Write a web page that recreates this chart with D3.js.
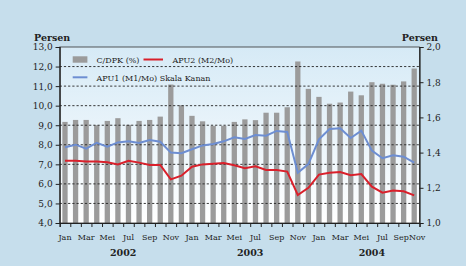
<!DOCTYPE html>
<html>
<head>
<meta charset="utf-8">
<script src="https://cdn.jsdelivr.net/npm/d3@7"></script>
<style>
  body { margin: 0; background: #c6deec; }
  svg { display: block; }
  text { font-family: "DejaVu Serif", serif; fill: #222; }
</style>
</head>
<body>
<svg id="chart" width="466" height="266"></svg>
<script>
// month names used on the x axis
var monthNames = ["Jan","Feb","Mar","Apr","Mei","Jun","Jul","Agu","Sep","Okt","Nov","Des"];
var years = ["2002", "2003", "2004"];
var yearMonths = [12, 12, 11];   // months labelled under each year

// C/DPK (%) - left scale, Jan 2002 .. Oct 2004
var cdpk = [9.17, 9.27, 9.27, 9.00, 9.22, 9.36, 9.02, 9.22, 9.27, 9.44, 11.08, 10.02,
            9.48, 9.20, 8.97, 8.97, 9.17, 9.30, 9.26, 9.64, 9.64, 9.92, 12.26, 10.86,
            10.45, 10.10, 10.16, 10.72, 10.53, 11.20, 11.12, 11.07, 11.24, 11.90];

// APU1 (M1/Mo) - right scale
var apu1 = [1.430, 1.445, 1.422, 1.456, 1.434, 1.458, 1.464, 1.455, 1.472, 1.462, 1.400, 1.396,
            1.419, 1.441, 1.449, 1.464, 1.487, 1.477, 1.500, 1.496, 1.523, 1.517, 1.286, 1.335,
            1.475, 1.534, 1.538, 1.483, 1.525, 1.411, 1.368, 1.385, 1.377, 1.343];

// APU2 (M2/Mo) - right scale
var apu2 = [1.354, 1.354, 1.350, 1.350, 1.345, 1.333, 1.354, 1.343, 1.330, 1.330, 1.248, 1.269,
            1.320, 1.333, 1.337, 1.341, 1.328, 1.311, 1.322, 1.301, 1.301, 1.292, 1.159, 1.200,
            1.275, 1.286, 1.290, 1.271, 1.278, 1.206, 1.172, 1.184, 1.180, 1.157];

var leftTicks = [4, 5, 6, 7, 8, 9, 10, 11, 12, 13];
var rightTicks = [1.0, 1.2, 1.4, 1.6, 1.8, 2.0];

var svg = d3.select("#chart");
var plotL = 59.7, plotR = 419.5, plotT = 47, plotB = 223;

var idx = d3.range(cdpk.length);

var x = d3.scaleBand()
	.domain(idx)
	.range([plotL, plotR])
	.paddingInner(0.5)
	.paddingOuter(0.25);

var xi = d3.scaleLinear()
	.domain([0, cdpk.length])
	.range([plotL, plotR]);

var y = d3.scaleLinear().domain([4, 13]).range([plotB, plotT]);
var yR = d3.scaleLinear().domain([1, 2]).range([plotB, plotT]);

var comma = function(d){ return d3.format(".1f")(d).replace(".", ","); };

// plot background gradient
var grad = svg.append("defs").append("linearGradient")
	.attr("id", "bg").attr("x1", 0).attr("y1", 0).attr("x2", 0).attr("y2", 1);
grad.append("stop").attr("offset", "0%").attr("stop-color", "#d6eaf6");
grad.append("stop").attr("offset", "100%").attr("stop-color", "#ffffff");

svg.append("rect")
	.attr("x", plotL).attr("y", plotT)
	.attr("width", plotR - plotL).attr("height", plotB - plotT)
	.style("fill", "url(#bg)");

// bars
svg.selectAll("rect.bar")
	.data(cdpk)
	.enter().append("rect")
	.attr("class", "bar")
	.attr("x", function(d, i){ return x(i); })
	.attr("width", x.bandwidth())
	.attr("y", function(d){ return y(d); })
	.attr("height", function(d){ return y(4) - y(d); })
	.style("fill", "#9b9b9b");

// dashed grid
svg.selectAll("line.grid")
	.data(leftTicks.filter(function(d){ return d > 4 && d < 13; }))
	.enter().append("line")
	.attr("x1", plotL).attr("x2", plotR)
	.attr("y1", function(d){ return y(d); })
	.attr("y2", function(d){ return y(d); })
	.style("stroke", "#222")
	.style("stroke-width", 0.9)
	.style("stroke-dasharray", "2.2,2");

// lines
var line1 = d3.line()
	.x(function(d, i){ return x(i) + x.bandwidth() / 2; })
	.y(function(d){ return yR(d); });

svg.append("path").datum(apu1)
	.attr("d", line1)
	.style("fill", "none")
	.style("stroke", "#6d8ed2")
	.style("stroke-width", 2);

svg.append("path").datum(apu2)
	.attr("d", line1)
	.style("fill", "none")
	.style("stroke", "#d9202b")
	.style("stroke-width", 2);

// frame
svg.append("rect")
	.attr("x", plotL).attr("y", plotT)
	.attr("width", plotR - plotL).attr("height", plotB - plotT)
	.style("fill", "none")
	.style("stroke", "#333")
	.style("stroke-width", 0.8);

// axes
var axL = svg.append("g")
	.attr("transform", "translate(" + plotL + ",0)")
	.call(d3.axisLeft(y).tickValues(leftTicks).tickFormat(comma).tickSize(4).tickPadding(3));

var axR = svg.append("g")
	.attr("transform", "translate(" + plotR + ",0)")
	.call(d3.axisRight(yR).tickValues(rightTicks).tickFormat(comma).tickSize(4).tickPadding(3));

var axB = svg.append("g")
	.attr("transform", "translate(0," + plotB + ")")
	.call(d3.axisBottom(xi).tickValues(d3.range(cdpk.length + 1)).tickFormat("").tickSize(4));

[axL, axR, axB].forEach(function(ax){
	ax.select(".domain").style("stroke", "#222").style("stroke-width", 1.2);
	ax.selectAll(".tick line").style("stroke", "#222");
	ax.selectAll("text").style("font-family", "DejaVu Serif").style("font-size", "9px").style("fill", "#222");
});

// month labels every second month
var labelIdx = d3.range(0, cdpk.length + 1, 2);
svg.selectAll("text.month")
	.data(labelIdx)
	.enter().append("text")
	.attr("class", "month")
	.attr("x", function(d){
		if(d == cdpk.length){ return xi(d - 1); }
		if(d == cdpk.length - 2){ return xi(d + 1); }
		return xi(d + 0.5);
	})
	.attr("y", 240)
	.attr("text-anchor", function(d){
		if(d == cdpk.length){ return "start"; }
		if(d == cdpk.length - 2){ return "end"; }
		return "middle";
	})
	.style("font-size", "8px")
	.text(function(d){ return monthNames[d % 12]; });

// years
var start = 0;
years.forEach(function(yr, k){
	var end = start + yearMonths[k];
	svg.append("text")
		.attr("x", (xi(start) + xi(end)) / 2)
		.attr("y", 256)
		.attr("text-anchor", "middle")
		.style("font-size", "9.5px")
		.style("font-weight", "bold")
		.text(yr);
	start = end;
});

// axis titles
svg.append("text").attr("x", 34).attr("y", 41)
	.style("font-size", "9.5px").style("font-weight", "bold").text("Persen");
svg.append("text").attr("x", 438).attr("y", 41).attr("text-anchor", "end")
	.style("font-size", "9.5px").style("font-weight", "bold").text("Persen");

// legend
var lg = svg.append("g");
lg.append("rect").attr("x", 72.7).attr("y", 56.3).attr("width", 14.7).attr("height", 6.4)
	.style("fill", "#9b9b9b");
lg.append("text").attr("x", 96.5).attr("y", 63).style("font-size", "8px").text("C/DPK (%)");
lg.append("line").attr("x1", 143.5).attr("x2", 163).attr("y1", 59.5).attr("y2", 59.5)
	.style("stroke", "#d9202b").style("stroke-width", 2);
lg.append("text").attr("x", 172.5).attr("y", 63).style("font-size", "8px").text("APU2 (M2/Mo)");
lg.append("line").attr("x1", 72.7).attr("x2", 87.4).attr("y1", 77.3).attr("y2", 77.3)
	.style("stroke", "#6d8ed2").style("stroke-width", 2);
lg.append("text").attr("x", 96.5).attr("y", 81).style("font-size", "8px").text("APU1 (M1/Mo) Skala Kanan");
</script>
</body>
</html>
